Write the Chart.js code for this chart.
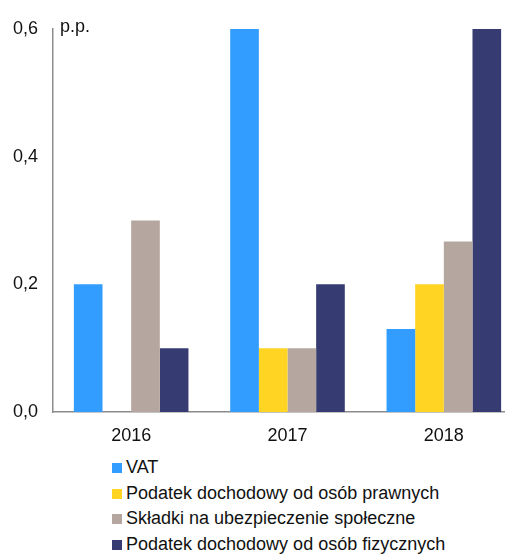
<!DOCTYPE html>
<html>
<head>
<meta charset="utf-8">
<script src="https://cdn.jsdelivr.net/npm/chart.js@4"></script>
<style>
  body { margin: 0; width: 505px; height: 557px; overflow: hidden; background: #fff; font-family: "Liberation Sans", Arial, sans-serif; }
  #wrap { position: relative; width: 522px; height: 450px; }
  #unit { position: absolute; left: 60px; top: 16px; font-size: 18px; line-height: 20px; color: #111; }
  #legend { position: absolute; left: 112px; top: 455px; font-size: 18px; color: #111; }
  #legend div { height: 25.5px; line-height: 25.5px; white-space: nowrap; }
  #legend span { display: inline-block; width: 10px; height: 10px; margin-right: 4px; vertical-align: 0px; }
</style>
</head>
<body>
<div id="wrap">
  <canvas id="chart" width="522" height="450"></canvas>
  <div id="unit">p.p.</div>
</div>
<div id="legend"></div>
<script>
const years = ['2016', '2017', '2018'];
const seriesNames = ['VAT', 'Podatek dochodowy od osób prawnych', 'Składki na ubezpieczenie społeczne', 'Podatek dochodowy od osób fizycznych'];
const vat = [0.2, 0.6, 0.13];
const cit = [0, 0.1, 0.2];
const zus = [0.3, 0.1, 0.267];
const pit = [0.1, 0.2, 0.6];
const colors = ['#339cff', '#ffd422', '#b5a79f', '#363c72'];

const values = [vat, cit, zus, pit];

new Chart(document.getElementById('chart'), {
  type: 'bar',
  data: {
    labels: years,
    datasets: seriesNames.map((name, i) => ({
      label: name,
      data: values[i],
      backgroundColor: colors[i],
      categoryPercentage: 0.733,
      barPercentage: 1
    }))
  },
  options: {
    responsive: false,
    animation: false,
    devicePixelRatio: 1,
    layout: { padding: { top: 29, right: 0, left: 0, bottom: 0 } },
    plugins: { legend: { display: false }, tooltip: { enabled: false } },
    scales: {
      x: {
        grid: { display: false, drawTicks: false },
        border: { color: '#8c8c8c', width: 1.5 },
        ticks: { color: '#111', font: { family: 'Liberation Sans', size: 18 }, padding: 13 },
        afterFit: s => { s.height = 38; }
      },
      y: {
        min: 0, max: 0.6,
        grid: { display: false, drawTicks: false },
        border: { color: '#8c8c8c', width: 1.5 },
        ticks: {
          stepSize: 0.2,
          color: '#111',
          font: { family: 'Liberation Sans', size: 18 },
          padding: 15,
          callback: v => v.toFixed(1).replace('.', ',')
        },
        afterFit: s => { s.width = 53; }
      }
    }
  }
});

document.getElementById('legend').innerHTML = seriesNames.map((n, i) =>
  `<div><span style="background:${colors[i]}"></span>${n}</div>`).join('');
</script>
</body>
</html>
